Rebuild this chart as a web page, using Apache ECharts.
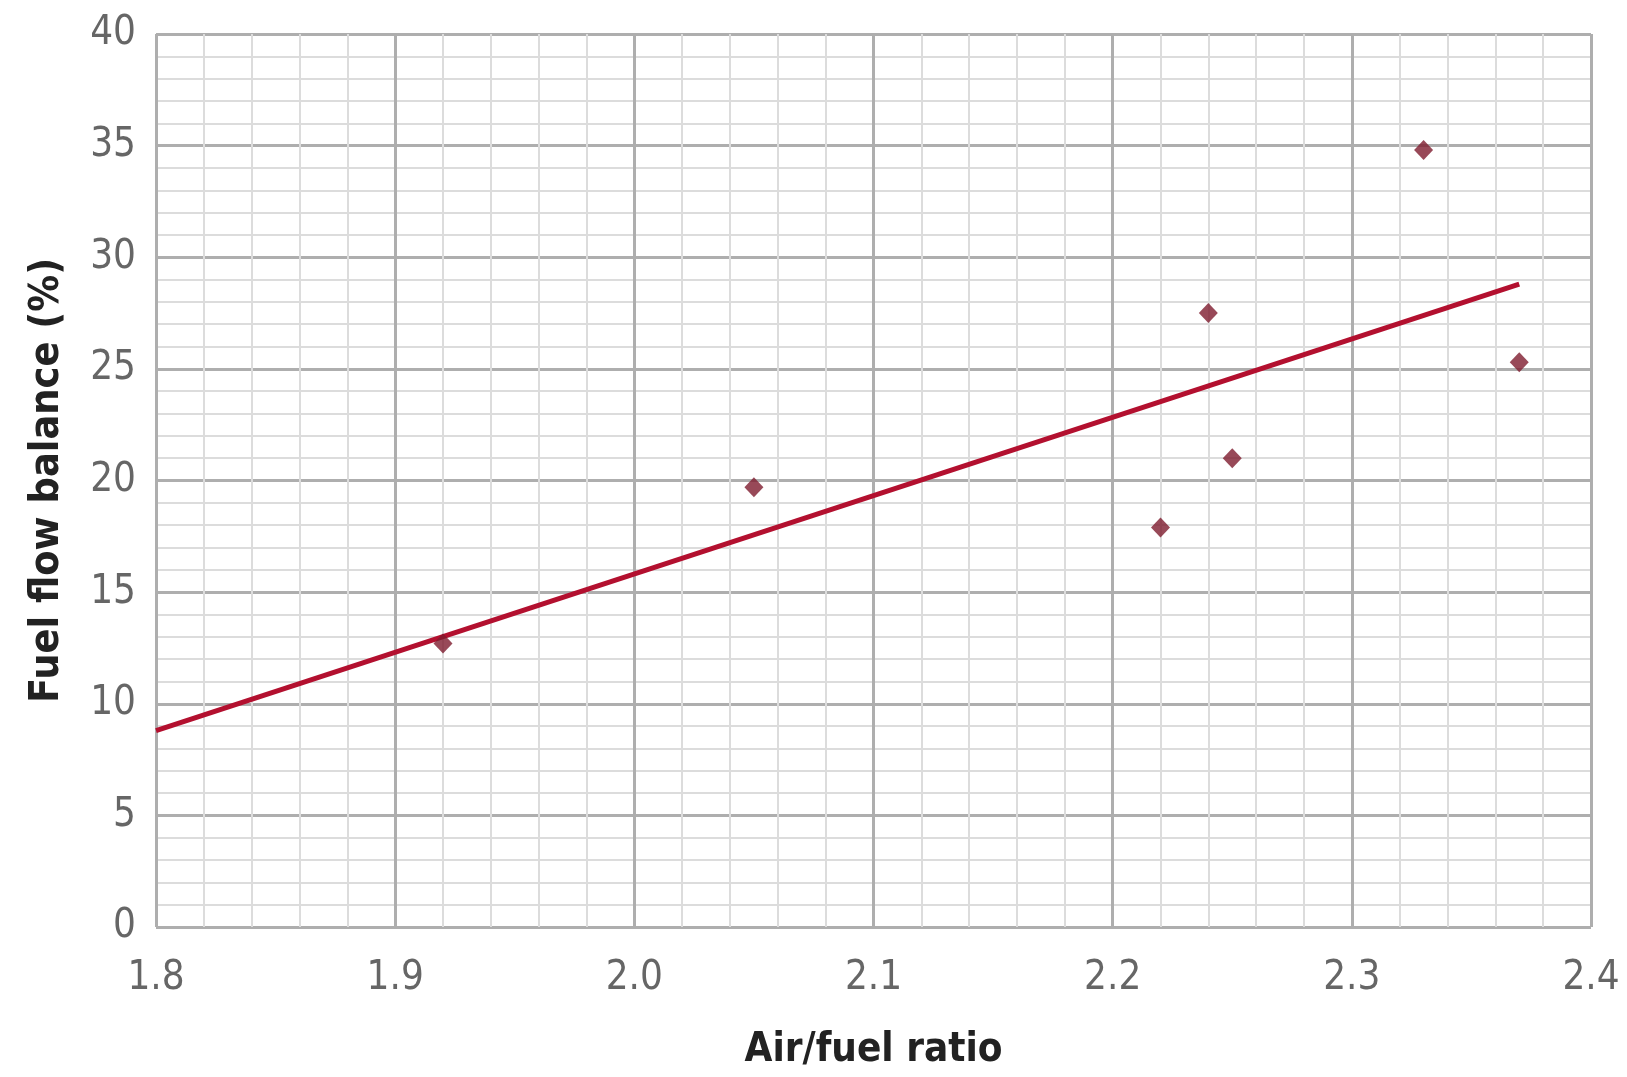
<!DOCTYPE html>
<html>
<head>
<meta charset="utf-8">
<script src="https://cdn.jsdelivr.net/npm/echarts@6/dist/echarts.min.js"></script>
<style>
  html, body { margin: 0; padding: 0; background: #fff; }
  #chart { width: 1627px; height: 1077px; }
</style>
</head>
<body>
<div id="chart"></div>
<script>
// measured points (air/fuel ratio, fuel flow balance %)
const airFuel = [1.92, 2.05, 2.22, 2.24, 2.25, 2.33, 2.37];
const fuelBalance = [12.7, 19.7, 17.9, 27.5, 21.0, 34.8, 25.3];
// trend line ends
const trendX = [1.8, 2.37];
const trendY = [8.8, 28.8];

const font = '"Liberation Sans Narrow", "DejaVu Sans Condensed", "Liberation Sans", sans-serif';

let chart = echarts.init(document.getElementById('chart'));
let option = {
  animation: false,
  grid: { left: 156, right: 36, top: 34, bottom: 150 },
  xAxis: {
    type: 'value',
    min: 1.8, max: 2.4, interval: 0.1,
    name: 'Air/fuel ratio',
    nameLocation: 'middle',
    nameGap: 104,
    nameTextStyle: { fontFamily: font, fontSize: 40, fontWeight: 'bold', color: '#222' },
    axisLine: { show: false },
    axisTick: { show: false },
    axisLabel: {
      margin: 32, fontFamily: font, fontSize: 40, color: '#666',
      formatter: v => v.toFixed(1)
    },
    splitLine: { show: true, lineStyle: { color: '#aeaeae', width: 3 } },
    minorTick: { show: false, splitNumber: 5 },
    minorSplitLine: { show: true, lineStyle: { color: '#dcdcdc', width: 2 } }
  },
  yAxis: {
    type: 'value',
    min: 0, max: 40, interval: 5,
    name: 'Fuel flow balance (%)',
    nameLocation: 'middle',
    nameGap: 88,
    nameTextStyle: { fontFamily: font, fontSize: 41, fontWeight: 'bold', color: '#222' },
    axisLine: { show: false },
    axisTick: { show: false },
    axisLabel: { margin: 20, fontFamily: font, fontSize: 40, color: '#666' },
    splitLine: { show: true, lineStyle: { color: '#aeaeae', width: 3 } },
    minorTick: { show: false, splitNumber: 5 },
    minorSplitLine: { show: true, lineStyle: { color: '#dcdcdc', width: 2 } }
  },
  series: [
    {
      type: 'line',
      data: trendX.map((x, i) => [x, trendY[i]]),
      symbol: 'none',
      lineStyle: { color: '#b3102f', width: 5 },
      z: 3
    },
    {
      type: 'scatter',
      data: airFuel.map((x, i) => [x, fuelBalance[i]]),
      symbol: 'diamond',
      symbolSize: [19, 20],
      itemStyle: { color: '#7e1c2e' },
      z: 4
    }
  ]
};
chart.setOption(option);
window.addEventListener('resize', () => { chart.resize() });
</script>
</body>
</html>
